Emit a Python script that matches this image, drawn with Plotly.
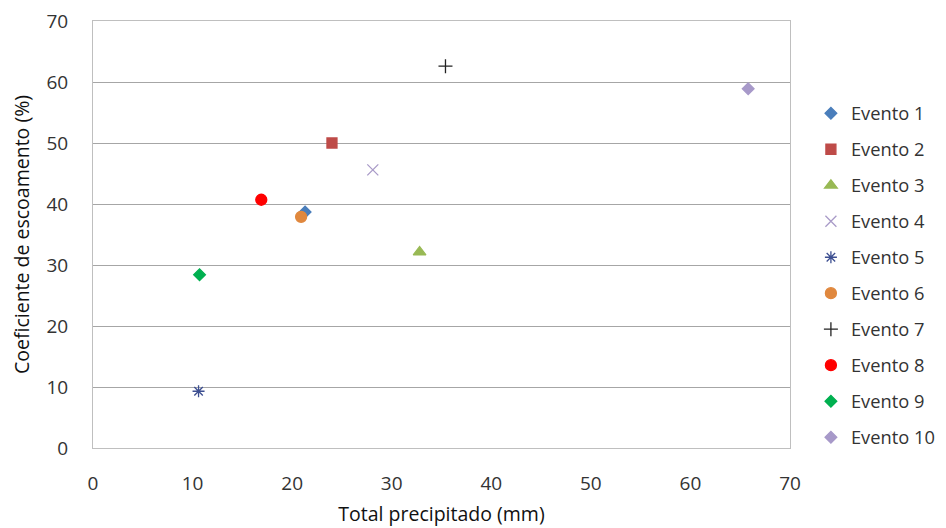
import plotly.graph_objects as go

names = ["Evento 1", "Evento 2", "Evento 3", "Evento 4", "Evento 5",
         "Evento 6", "Evento 7", "Evento 8", "Evento 9", "Evento 10"]
total_precip = [21.3, 24.0, 32.8, 28.1, 10.6, 20.9, 35.4, 16.9, 10.7, 65.8]
coef_escoamento = [38.7, 50.0, 32.1, 45.6, 9.3, 37.9, 62.6, 40.7, 28.4, 58.9]

symbols = ["diamond", "square", "triangle-up", "x-thin-open", "asterisk-open",
           "circle", "cross-thin-open", "circle", "diamond", "diamond"]
colors = ["#4A7EBB", "#BE4B48", "#98B954", "#A99BC8", "#3D4F91",
          "#E0883E", "#222222", "#FF0000", "#00B050", "#A799C9"]
sizes = [9, 10, 11, 11, 10, 11, 10, 11, 9, 9]

fig = go.Figure()
for i, n in enumerate(names):
    fig.add_trace(go.Scatter(
        x=[total_precip[i]], y=[coef_escoamento[i]], mode="markers", name=n,
        legendgroup=n,
        marker=dict(symbol=symbols[i], color=colors[i], size=sizes[i],
                    line=dict(color=colors[i], width=1.3)),
    ))

font = "Open Sans, Liberation Sans, Arial"
fig.update_layout(
    width=946, height=528,
    margin=dict(l=85, r=164, t=13, b=88),
    paper_bgcolor="white", plot_bgcolor="white",
    font=dict(family=font, size=19, color="#333333"),
    xaxis=dict(range=[0, 70], dtick=10, showgrid=False, zeroline=False,
               showline=True, linecolor="#BFBFBF", linewidth=1, mirror=True,
               ticks="", ticklabelstandoff=18, automargin=False,
               ticklabeloverflow="allow",
               tickfont=dict(size=19, color="#333333"),
               title=dict(text="Total precipitado (mm)", standoff=12,
                          font=dict(size=19.5, color="#111111"))),
    yaxis=dict(range=[0, 70], dtick=10, showgrid=True, gridcolor="#A6A6A6",
               gridwidth=1, zeroline=False,
               showline=True, linecolor="#BFBFBF", linewidth=1, mirror=True,
               ticks="", ticklabelstandoff=20, automargin=False,
               ticklabeloverflow="allow",
               tickfont=dict(size=19, color="#333333"),
               title=dict(text="Coeficiente de escoamento (%)", standoff=12,
                          font=dict(size=19.5, color="#111111"))),
    legend=dict(x=1.03, y=0.827, xanchor="left", yanchor="top",
                font=dict(size=18.3, color="#333333"), tracegroupgap=9.2,
                itemwidth=30, bgcolor="rgba(0,0,0,0)"),
    showlegend=True,
)

fig.write_html("out.html")
